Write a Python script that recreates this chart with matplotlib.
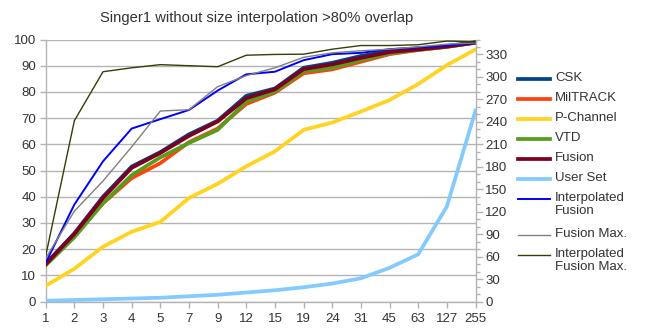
import matplotlib
matplotlib.use("Agg")
import matplotlib.pyplot as plt
from matplotlib.lines import Line2D
import numpy as np

plt.rcParams['font.family'] = ['Liberation Sans', 'DejaVu Sans']

categories = ['1', '2', '3', '4', '5', '7', '9', '12', '15', '19', '24', '31', '45', '63', '127', '255']

csk = [14.5, 26.0, 40.0, 51.5, 57.0, 63.8, 69.0, 78.5, 81.3, 89.2, 91.1, 93.7, 95.6, 96.5, 97.5, 99.0]
miltrack = [14.0, 25.0, 37.5, 47.1, 52.8, 60.8, 66.0, 75.4, 79.7, 87.1, 88.6, 91.5, 94.4, 96.0, 97.2, 98.8]
pchannel = [6.0, 12.5, 20.9, 26.6, 30.4, 39.5, 44.9, 51.6, 57.3, 65.5, 68.3, 72.5, 76.9, 83.0, 90.2, 96.2]
vtd = [13.8, 24.5, 37.5, 48.2, 55.0, 60.5, 65.5, 76.3, 80.1, 87.8, 89.2, 92.1, 94.7, 96.0, 97.2, 98.8]
fusion = [14.2, 25.8, 39.5, 51.0, 56.7, 63.2, 68.7, 77.6, 81.0, 88.7, 90.5, 93.0, 95.2, 96.2, 97.3, 98.8]
user_set = [1, 2, 3, 4, 5, 7, 9, 12, 15, 19, 24, 31, 45, 63, 127, 255]
interp_fusion = [14.8, 37.0, 53.5, 66.0, 69.6, 73.1, 80.5, 86.7, 87.7, 92.1, 94.4, 94.9, 96.3, 97.0, 97.7, 98.7]
fusion_max = [16.5, 34.5, 46.0, 59.0, 72.7, 73.2, 82.0, 86.2, 89.2, 93.2, 94.9, 95.7, 96.3, 97.2, 98.2, 98.7]
interp_fusion_max = [17.4, 69.0, 87.7, 89.2, 90.4, 90.0, 89.6, 94.0, 94.3, 94.4, 96.3, 97.7, 97.7, 98.0, 99.4, 99.1]

TXT = '#333333'
AX = '#b3b3b3'

W, H = 654, 329
fig = plt.figure(figsize=(W / 100, H / 100), dpi=100)
L, R, T, B = 45.7, 475.5, 39.5, 301.5
ax = fig.add_axes([L / W, 1 - B / H, (R - L) / W, (B - T) / H])
ax2 = ax.twinx()

x = np.arange(len(categories))

series_left = [
    ('CSK', csk, '#004586', 2.7),
    ('MilTRACK', miltrack, '#ff420e', 2.7),
    ('P-Channel', pchannel, '#ffd320', 2.7),
    ('VTD', vtd, '#579d1c', 2.7),
    ('Fusion', fusion, '#7e0021', 2.7),
]
series_after = [
    ('Interpolated\nFusion', interp_fusion, '#0000ff', 1.4),
    ('Fusion Max.', fusion_max, '#808080', 1.0),
    ('Interpolated\nFusion Max.', interp_fusion_max, '#314004', 1.0),
]

for name, vals, col, lw in series_left + series_after:
    ax.plot(x, vals, color=col, lw=lw, solid_joinstyle='round', zorder=3)

ax2.plot(x, user_set, color='#83caff', lw=2.7, solid_joinstyle='round', zorder=3)

ax.set_xlim(0, len(categories) - 1)
ax.set_ylim(0, 100)
ax2.set_ylim(0, 350)

ax.set_yticks(np.arange(0, 101, 10))
ax.set_xticks(x)
ax.set_xticklabels(categories)
ax2.set_yticks(np.arange(0, 331, 30))
ax2.set_yticks(np.arange(0, 351, 10), minor=True)

ax.grid(axis='y', color=AX, lw=1.0)
ax.set_axisbelow(True)

for a in (ax, ax2):
    a.spines['top'].set_visible(False)
    for s in ('left', 'right', 'bottom'):
        a.spines[s].set_color(AX)
        a.spines[s].set_linewidth(1.0)
ax.spines['right'].set_visible(False)
ax2.spines['left'].set_visible(False)
ax2.spines['bottom'].set_visible(False)

fs = 9.5
ax.tick_params(axis='both', colors=AX, labelcolor=TXT, labelsize=fs, length=4, width=1.0)
ax.tick_params(axis='y', pad=3)
ax.tick_params(axis='x', pad=4)
ax2.tick_params(axis='y', which='major', colors=AX, labelcolor=TXT, labelsize=fs, length=5, width=1.0, pad=2)
ax2.tick_params(axis='y', which='minor', colors=AX, length=3, width=1.0)

fig.text(257 / W, 1 - 18 / H, 'Singer1 without size interpolation >80% overlap',
         ha='center', va='center', fontsize=10.6, color=TXT)

# legend (manual layout)
entries = [
    ('CSK', '#004586', 2.7, 79),
    ('MilTRACK', '#ff420e', 2.7, 99),
    ('P-Channel', '#ffd320', 2.7, 119),
    ('VTD', '#579d1c', 2.7, 139),
    ('Fusion', '#7e0021', 2.7, 159),
    ('User Set', '#83caff', 2.7, 179),
    ('Interpolated\nFusion', '#0000ff', 1.4, 199),
    ('Fusion Max.', '#808080', 1.0, 235),
    ('Interpolated\nFusion Max.', '#314004', 1.0, 255),
]
for name, col, lw, yp in entries:
    fig.add_artist(Line2D([518 / W, 550 / W], [1 - yp / H, 1 - yp / H], color=col, lw=lw,
                          transform=fig.transFigure))
    fig.text(555 / W, 1 - (yp - 7) / H, name, ha='left', va='top', fontsize=fs,
             color=TXT, linespacing=1.15)

fig.savefig('out.png', dpi=100)
